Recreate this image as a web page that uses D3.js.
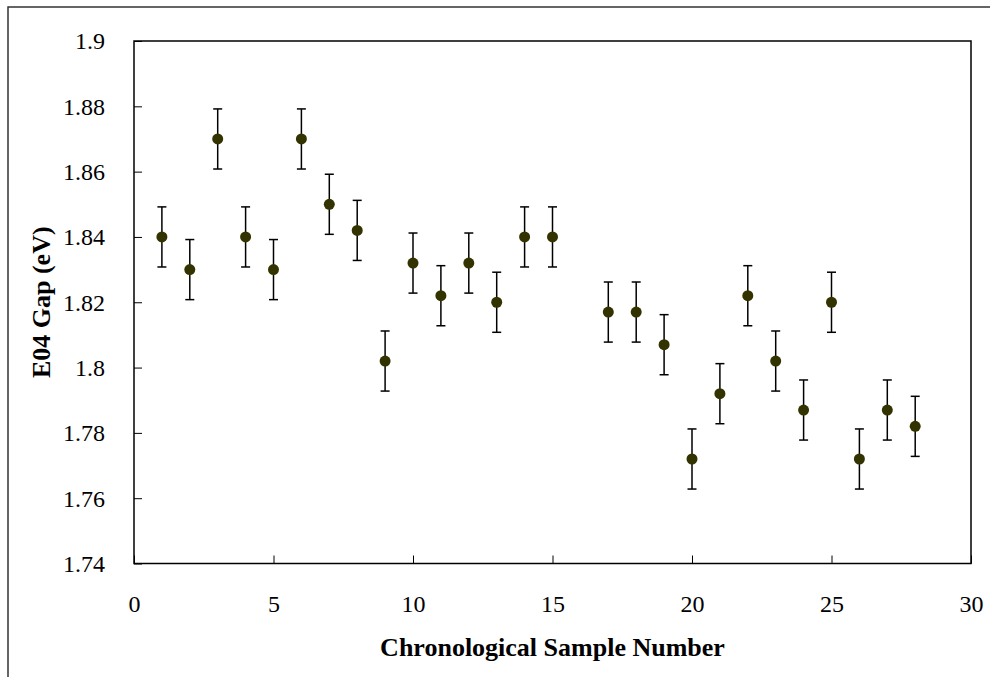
<!DOCTYPE html>
<html>
<head>
<meta charset="utf-8">
<script src="https://cdn.jsdelivr.net/npm/d3@7/dist/d3.min.js"></script>
<style>
  html, body { margin: 0; padding: 0; background: #fff; }
  svg { display: block; }
  text { font-family: "Liberation Serif", "Times New Roman", serif; fill: #000; }
</style>
</head>
<body>
<svg id="chart" width="990" height="677"></svg>
<script>
// Data
const sampleNumbers = [1,2,3,4,5,6,7,8,9,10,11,12,13,14,15,17,18,19,20,21,22,23,24,25,26,27,28];
const gapValues = [1.840,1.830,1.870,1.840,1.830,1.870,1.850,1.842,1.802,1.832,1.822,1.832,1.820,1.840,1.840,
                   1.817,1.817,1.807,1.772,1.792,1.822,1.802,1.787,1.820,1.772,1.787,1.782];
const errorValues = [0.0092,0.0092,0.0092,0.0092,0.0092,0.0092,0.0092,0.0092,0.0092,0.0092,0.0092,0.0092,0.0092,0.0092,0.0092,
                     0.0092,0.0092,0.0092,0.0092,0.0092,0.0092,0.0092,0.0092,0.0092,0.0092,0.0092,0.0092];
const xTicks = [0,5,10,15,20,25,30];
const yTicks = [1.74,1.76,1.78,1.80,1.82,1.84,1.86,1.88,1.90];
const yTickLabels = ["1.74","1.76","1.78","1.8","1.82","1.84","1.86","1.88","1.9"];

(function () {
const svg = d3.select("#chart");
const pL = 134, pR = 971, pT = 41, pB = 563.5;

// outer frame
svg.append("rect").attr("x", 8).attr("y", 7).attr("width", 1000).attr("height", 700)
  .attr("fill", "none").attr("stroke", "#333").attr("stroke-width", 1.5);

const x = d3.scaleLinear().domain([0, 30]).range([pL, pR]);
const y = d3.scaleLinear().domain([1.74, 1.90]).range([pB, pT]);

// plot frame
svg.append("rect").attr("x", pL).attr("y", pT).attr("width", pR - pL).attr("height", pB - pT)
  .attr("fill", "none").attr("stroke", "#000").attr("stroke-width", 1.5);

// axes
const xAxis = d3.axisBottom(x).tickValues(xTicks).tickSizeInner(-8).tickSizeOuter(0).tickPadding(38);
const gx = svg.append("g").attr("transform", `translate(0,${pB})`).call(xAxis);
gx.select(".domain").remove();
gx.selectAll(".tick line").attr("stroke", "#000").attr("stroke-width", 1);
gx.selectAll(".tick text").attr("font-size", 24).attr("font-family", "Liberation Serif").attr("fill", "#000")
  .attr("dy", "0").attr("y", 48);

const yAxis = d3.axisLeft(y).tickValues(yTicks).tickFormat((d, i) => yTickLabels[i]).tickSizeInner(-8).tickSizeOuter(0).tickPadding(29);
const gy = svg.append("g").attr("transform", `translate(${pL},0)`).call(yAxis);
gy.select(".domain").remove();
gy.selectAll(".tick line").attr("stroke", "#000").attr("stroke-width", 1);
gy.selectAll(".tick text").attr("font-size", 24).attr("font-family", "Liberation Serif").attr("fill", "#000").attr("dy", "0.33em");

const data = sampleNumbers.map((s, i) => ({ s, v: gapValues[i], e: errorValues[i] }));

// error bars
const eb = svg.append("g").attr("stroke", "#000").attr("stroke-width", 1.5);
data.forEach(d => {
  const cx = x(d.s);
  eb.append("line").attr("x1", cx).attr("x2", cx).attr("y1", y(d.v + d.e)).attr("y2", y(d.v - d.e));
  eb.append("line").attr("x1", cx - 4.5).attr("x2", cx + 4.5).attr("y1", y(d.v + d.e)).attr("y2", y(d.v + d.e));
  eb.append("line").attr("x1", cx - 4.5).attr("x2", cx + 4.5).attr("y1", y(d.v - d.e)).attr("y2", y(d.v - d.e));
});

// markers
svg.append("g").selectAll("circle").data(data).join("circle")
  .attr("cx", d => x(d.s)).attr("cy", d => y(d.v)).attr("r", 5.5)
  .attr("fill", "#333300");

// axis titles
svg.append("text").attr("x", (pL + pR) / 2).attr("y", 656)
  .attr("text-anchor", "middle").attr("font-size", 26).attr("font-weight", "bold")
  .text("Chronological Sample Number");

svg.append("text").attr("transform", `translate(50,${(pT + pB) / 2}) rotate(-90)`)
  .attr("text-anchor", "middle").attr("font-size", 26).attr("font-weight", "bold")
  .text("E04 Gap (eV)");
})();
</script>
</body>
</html>
